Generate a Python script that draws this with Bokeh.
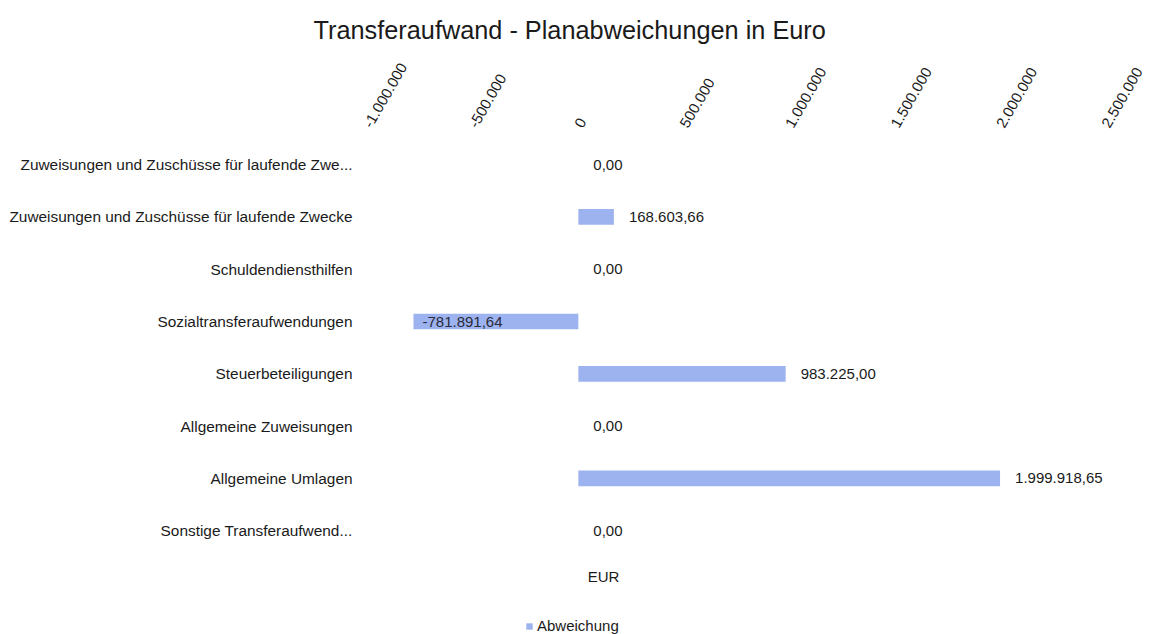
from bokeh.plotting import figure
from bokeh.models import Range1d, FixedTicker, Legend, LegendItem, Label, ColumnDataSource
from bokeh.embed import file_html
from bokeh.resources import INLINE
from bokeh.core.properties import value
import math

categories = [
    "Zuweisungen und Zuschüsse für laufende Zwe...",
    "Zuweisungen und Zuschüsse für laufende Zwecke",
    "Schuldendiensthilfen",
    "Sozialtransferaufwendungen",
    "Steuerbeteiligungen",
    "Allgemeine Zuweisungen",
    "Allgemeine Umlagen",
    "Sonstige Transferaufwend...",
]
values = [0.00, 168603.66, 0.00, -781891.64, 983225.00, 0.00, 1999918.65, 0.00]
tick_values = [-1000000, -500000, 0, 500000, 1000000, 1500000, 2000000, 2500000]
tick_labels = ["-1.000.000", "-500.000", "0", "500.000", "1.000.000", "1.500.000", "2.000.000", "2.500.000"]
series_name = "Abweichung"
title_text = "Transferaufwand - Planabweichungen in Euro"
axis_title = "EUR"


def de(v):
    s = f"{v:,.2f}"
    return s.replace(",", "X").replace(".", ",").replace("X", ".")


FONT = "Liberation Sans"
BAR = "#9db3f0"
TXT = "#1a1a1a"

n = len(categories)
ypos = [n - 1 - i for i in range(n)]  # first category on top

pos_idx = [i for i, v in enumerate(values) if v >= 0]
neg_idx = [i for i, v in enumerate(values) if v < 0]

src = ColumnDataSource(dict(y=ypos, val=values))
src_pos = ColumnDataSource(dict(y=[ypos[i] for i in pos_idx], val=[values[i] for i in pos_idx],
                                lab=[de(values[i]) for i in pos_idx]))
src_neg = ColumnDataSource(dict(y=[ypos[i] for i in neg_idx], val=[values[i] for i in neg_idx],
                                lab=[de(values[i]) for i in neg_idx]))

p = figure(
    width=1149, height=634,
    x_range=Range1d(-1000000, 2500000),
    y_range=Range1d(-1.985, n - 0.5),
    x_axis_location="above",
    output_backend="svg", toolbar_location=None,
    min_border_left=367, min_border_right=44, min_border_top=138, min_border_bottom=0,
)
p.outline_line_color = None
p.grid.visible = False
p.background_fill_color = "white"

p.title.text = title_text
p.title.align = "left"
p.title.offset = -54
p.title.text_font = FONT
p.title.text_font_size = "25.3px"
p.title.text_font_style = "normal"
p.title.text_color = TXT
p.title.standoff = 25

bars = p.hbar(y="y", left=0, right="val", height=0.3, source=src,
              fill_color=BAR, line_color=None)

p.text(x="val", y="y", text="lab", source=src_pos, x_offset=15,
       text_align="left", text_baseline="middle", text_font=value(FONT),
       text_font_size="15px", text_color=TXT)
p.text(x="val", y="y", text="lab", source=src_neg, x_offset=9,
       text_align="left", text_baseline="middle", text_font=value(FONT),
       text_font_size="15px", text_color="#2a2a3a")

xa = p.xaxis[0]
xa.ticker = FixedTicker(ticks=tick_values)
xa.major_label_overrides = {t: l for t, l in zip(tick_values, tick_labels)}
xa.major_label_orientation = math.pi / 3
xa.major_label_text_font = FONT
xa.major_label_text_font_size = "15px"
xa.major_label_text_color = TXT
xa.major_label_standoff = 12
xa.major_tick_out = 0
xa.major_tick_in = 0
xa.axis_line_color = None
xa.major_tick_line_color = None
xa.minor_tick_line_color = None

ya = p.yaxis[0]
ya.ticker = FixedTicker(ticks=ypos)
ya.major_label_overrides = {y: c for y, c in zip(ypos, categories)}
ya.major_label_text_font = FONT
ya.major_label_text_font_size = "15.4px"
ya.major_label_text_color = TXT
ya.major_label_standoff = 15
ya.major_tick_out = 0
ya.major_tick_in = 0
ya.axis_line_color = None
ya.major_tick_line_color = None
ya.minor_tick_line_color = None

p.add_layout(Label(x=236, y=58, x_units="screen", y_units="screen", text=axis_title,
                   text_align="center", text_baseline="middle", text_font=FONT,
                   text_font_size="15px", text_color=TXT))

legend = Legend(items=[LegendItem(label=series_name, renderers=[bars])],
                location=(158, 0), orientation="horizontal",
                border_line_color=None, background_fill_alpha=0,
                padding=0, margin=0, spacing=0,
                glyph_width=8, glyph_height=8, label_height=14, label_standoff=4,
                label_text_font=FONT, label_text_font_size="15px", label_text_color=TXT)
p.add_layout(legend, "center")

open("out.html", "w").write(file_html(p, INLINE))
